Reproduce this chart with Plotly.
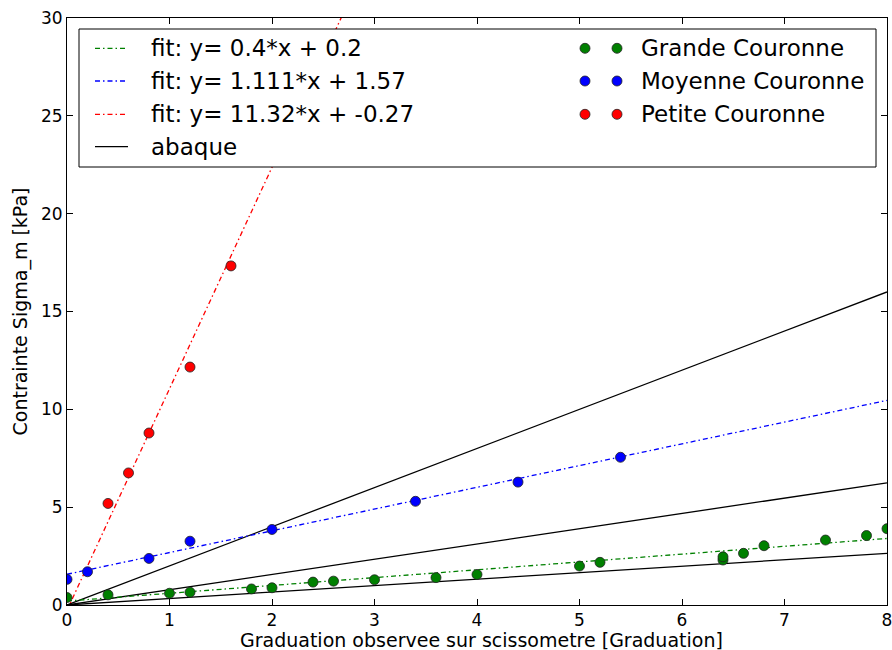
import plotly.graph_objects as go

# ---------------- data ----------------
grande_x = [0.0, 0.4, 1.0, 1.2, 1.8, 2.0, 2.4, 2.6, 3.0, 3.6, 4.0, 5.0, 5.2, 6.4, 6.4, 6.6, 6.8, 7.4, 7.8, 8.0]
grande_y = [0.38, 0.52, 0.6, 0.65, 0.82, 0.88, 1.17, 1.22, 1.29, 1.4, 1.56, 1.99, 2.18, 2.3, 2.46, 2.64, 3.03, 3.32, 3.55, 3.9]

moyenne_x = [0.0, 0.2, 0.8, 1.2, 2.0, 3.4, 4.4, 5.4]
moyenne_y = [1.31, 1.7, 2.38, 3.26, 3.86, 5.3, 6.28, 7.55]

petite_x = [0.4, 0.6, 0.8, 1.2, 1.6]
petite_y = [5.19, 6.75, 8.79, 12.16, 17.33]

fit_names = ["fit: y= 0.4*x + 0.2", "fit: y= 1.111*x + 1.57", "fit: y= 11.32*x + -0.27"]
fit_slopes = [0.4, 1.111, 11.32]
fit_intercepts = [0.2, 1.57, -0.27]
fit_colors = ["#008000", "#0000ff", "#ff0000"]

abaque_slopes = [2.0, 0.78, 0.33]
x_span = [0.0, 8.0]

series_names = ["Grande Couronne", "Moyenne Couronne", "Petite Couronne"]
series_colors = ["#008000", "#0000ff", "#ff0000"]

x_ticks = [0, 1, 2, 3, 4, 5, 6, 7, 8]
y_ticks = [0, 5, 10, 15, 20, 25, 30]

x_title = "Graduation observee sur scissometre [Graduation]"
y_title = "Contrainte Sigma_m [kPa]"

# ---------------- figure ----------------
FONT = "DejaVu Sans"
DASH = "5px,3px,1.5px,3px"
fig = go.Figure()

for s in abaque_slopes:
    fig.add_trace(go.Scatter(x=x_span, y=[s * v for v in x_span], mode="lines",
                             line=dict(color="black", width=1.3), showlegend=False, hoverinfo="skip"))

for a, b, c in zip(fit_slopes, fit_intercepts, fit_colors):
    fig.add_trace(go.Scatter(x=x_span, y=[a * v + b for v in x_span], mode="lines",
                             line=dict(color=c, width=1.3, dash=DASH), showlegend=False, hoverinfo="skip"))

for xs, ys, c in zip([grande_x, moyenne_x, petite_x], [grande_y, moyenne_y, petite_y], series_colors):
    fig.add_trace(go.Scatter(x=xs, y=ys, mode="markers",
                             marker=dict(color=c, size=10, line=dict(color="#222222", width=0.8)),
                             showlegend=False))

# ---------------- manual legend (matplotlib style) ----------------
L, R, T, B = 67, 887, 18, 605
W, H = R - L, B - T
def px(xp):
    return (xp - L) / W
def py(yp):
    return (B - yp) / H

LEG_FONT = dict(family=FONT, size=23, color="black")
shapes = [dict(type="rect", xref="paper", yref="paper", x0=px(79), x1=px(876), y0=py(167), y1=py(29),
               line=dict(color="black", width=1), fillcolor="white", layer="above")]
annotations = []
rows = [48.3, 81, 114.3, 146.7]
for i, (name, c) in enumerate(zip(fit_names, fit_colors)):
    shapes.append(dict(type="line", xref="paper", yref="paper", x0=px(95), x1=px(128),
                       y0=py(rows[i]), y1=py(rows[i]), line=dict(color=c, width=1.3, dash=DASH), layer="above"))
    annotations.append(dict(x=px(149), y=py(rows[i]), xref="paper", yref="paper", text=name,
                            showarrow=False, xanchor="left", yanchor="middle", font=LEG_FONT))
shapes.append(dict(type="line", xref="paper", yref="paper", x0=px(95), x1=px(128),
                   y0=py(rows[3]), y1=py(rows[3]), line=dict(color="black", width=1.3), layer="above"))
annotations.append(dict(x=px(149), y=py(rows[3]), xref="paper", yref="paper", text="abaque",
                        showarrow=False, xanchor="left", yanchor="middle", font=LEG_FONT))
for i, (name, c) in enumerate(zip(series_names, series_colors)):
    for cx in (585, 617):
        shapes.append(dict(type="circle", xref="paper", yref="paper", xsizemode="pixel", ysizemode="pixel",
                           xanchor=px(cx), yanchor=py(rows[i]), x0=-5, x1=5, y0=-5, y1=5,
                           fillcolor=c, line=dict(color="#222222", width=0.8), layer="above"))
    annotations.append(dict(x=px(639), y=py(rows[i]), xref="paper", yref="paper", text=name,
                            showarrow=False, xanchor="left", yanchor="middle", font=LEG_FONT))

# x axis title as a paper annotation (matplotlib-like placement)
annotations.append(dict(x=px(481), y=py(640), xref="paper", yref="paper", text=x_title,
                        showarrow=False, xanchor="center", yanchor="middle", borderpad=0,
                        font=dict(family=FONT, size=19, color="black")))

axis_common = dict(showgrid=False, zeroline=False, showline=True, linecolor="black", linewidth=1,
                   mirror="ticks", ticks="inside", ticklen=6, tickwidth=1, tickcolor="black",
                   ticklabeloverflow="allow",
                   tickfont=dict(family=FONT, size=17, color="black"))

fig.update_layout(
    width=892, height=650,
    margin=dict(l=L, r=892 - R, t=T, b=650 - B, autoexpand=False),
    paper_bgcolor="white", plot_bgcolor="white",
    font=dict(family=FONT, color="black"),
    showlegend=False,
    shapes=shapes, annotations=annotations,
    xaxis=dict(range=[0, 8], tickvals=x_ticks, ticktext=[str(v) for v in x_ticks],
               automargin=False, **axis_common),
    yaxis=dict(range=[0, 30], tickvals=y_ticks, ticktext=[str(v) for v in y_ticks],
               title=dict(text=y_title, font=dict(family=FONT, size=19, color="black"), standoff=8),
               automargin=False, **axis_common),
)

fig.write_html("out.html", config={"displayModeBar": False},
               post_script="document.body.style.margin='0px';document.body.style.overflow='hidden';")
